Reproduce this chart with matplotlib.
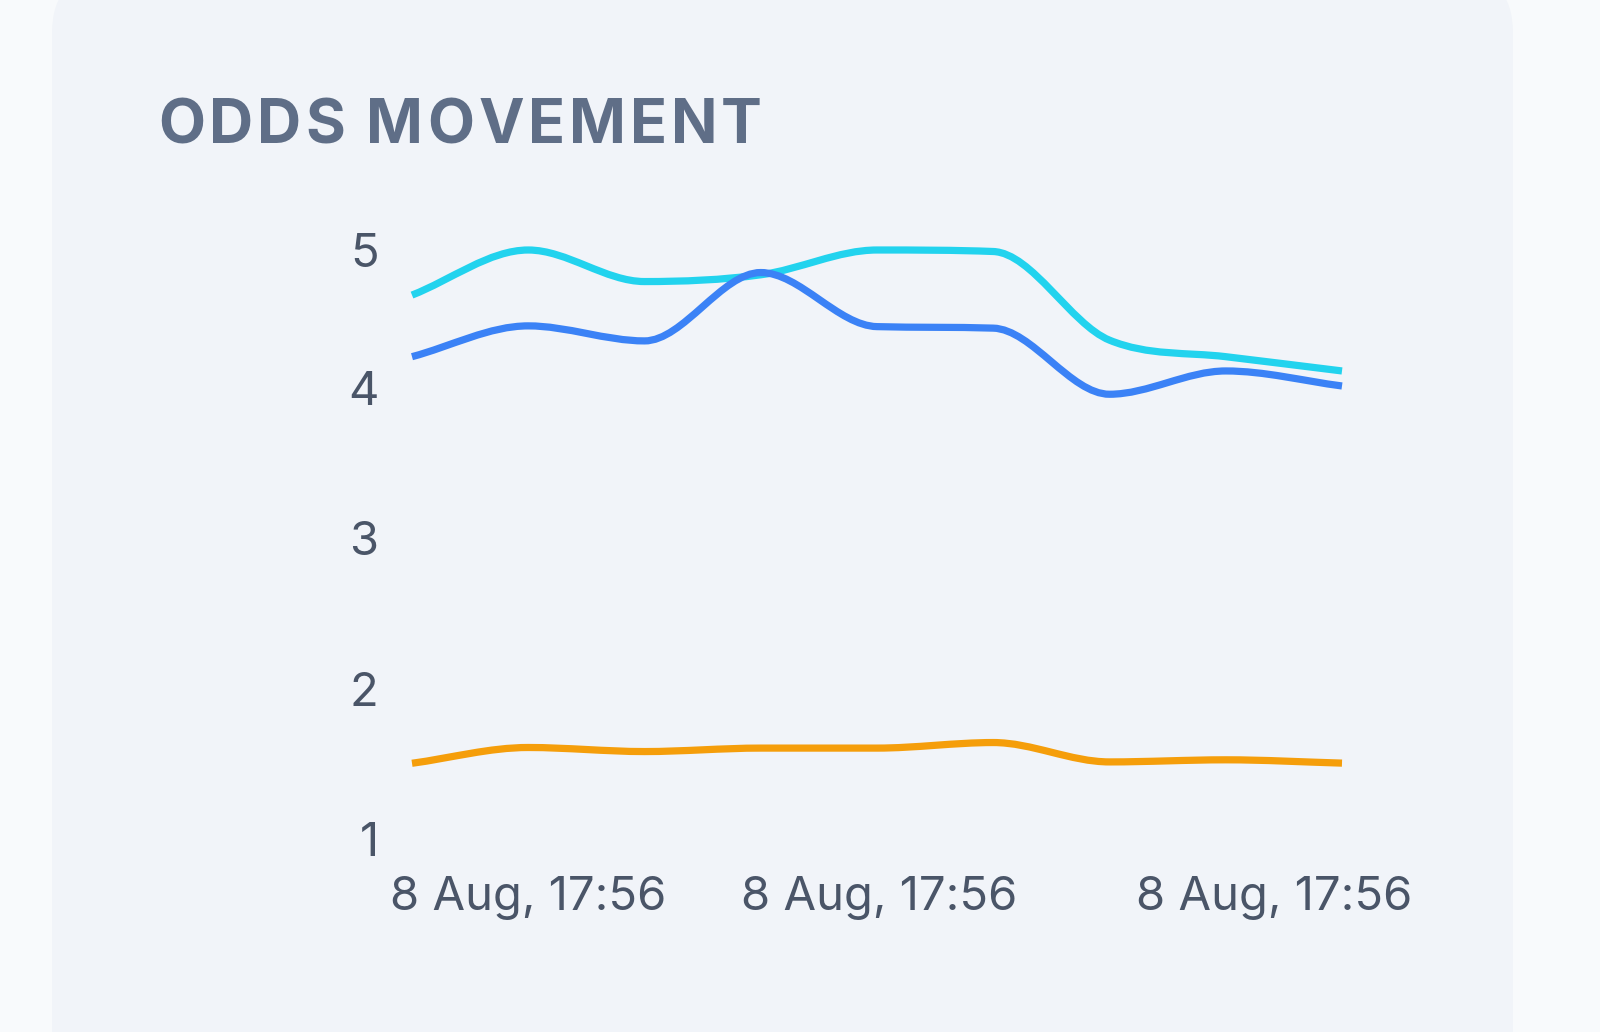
import numpy as np
import matplotlib
matplotlib.use("Agg")
import matplotlib.pyplot as plt
from matplotlib.patches import FancyBboxPatch, PathPatch
from matplotlib.path import Path
from matplotlib.transforms import IdentityTransform

# ---- data ----
title = "ODDS MOVEMENT"
series_cyan = [4.62, 4.92, 4.71, 4.755, 4.92, 4.91, 4.32, 4.21, 4.115]
series_blue = [4.21, 4.415, 4.315, 4.77, 4.41, 4.40, 3.96, 4.115, 4.015]
series_orange = [1.504, 1.609, 1.582, 1.605, 1.605, 1.642, 1.513, 1.527, 1.505]
x_tick_pos = [1.0, 4.02, 7.42]
x_tick_labels = ["8 Aug, 17:56", "8 Aug, 17:56", "8 Aug, 17:56"]
y_ticks = [1, 2, 3, 4]

colors = {"cyan": "#22d3ee", "blue": "#3b82f6", "orange": "#f59e0b"}

W, H = 1600, 1032
fig = plt.figure(figsize=(W / 100, H / 100), dpi=100)
fig.patch.set_facecolor("#f8fafc")

# card
card = FancyBboxPatch((52, -120), 1461, 1152 + 27, boxstyle="round,pad=0,rounding_size=60",
                      transform=IdentityTransform(), facecolor="#f1f4f9", edgecolor="none", zorder=-5)
fig.patches.append(card)

# axes
left, right, bottom_px, top_px = 412, 1342, 839, 250
ax = fig.add_axes([left / W, (H - bottom_px) / H, (right - left) / W, (bottom_px - top_px) / H])
ax.set_zorder(2)
ax.set_facecolor("none")
for s in ax.spines.values():
    s.set_visible(False)

x = np.arange(len(series_cyan), dtype=float)
ymax = max(max(series_cyan), max(series_blue), max(series_orange))
ax.set_xlim(0, len(x) - 1)
ax.set_ylim(1, ymax)

tick_font = "Inter"
ax.set_yticks(y_ticks + [ymax])
ax.set_yticklabels([f"{v:.0f}" for v in y_ticks + [ymax]])
ax.set_xticks(x_tick_pos)
ax.set_xticklabels(x_tick_labels)
ax.tick_params(axis="both", length=0, labelsize=34, labelcolor="#4a5568")
ax.tick_params(axis="y", pad=24)
ax.tick_params(axis="x", pad=27)
for lab in ax.get_xticklabels() + ax.get_yticklabels():
    lab.set_fontfamily(tick_font)


def monotone_path(xs, ys):
    xs = np.asarray(xs, float)
    ys = np.asarray(ys, float)
    n = len(xs)
    dk = np.zeros(n)
    for i in range(n - 1):
        dx = xs[i + 1] - xs[i]
        dk[i] = (ys[i + 1] - ys[i]) / dx if dx else 0.0
    mk = np.zeros(n)
    for i in range(n):
        if i == 0:
            mk[i] = dk[0]
        elif i == n - 1:
            mk[i] = dk[i - 1]
        elif np.sign(dk[i - 1]) != np.sign(dk[i]):
            mk[i] = 0.0
        else:
            mk[i] = (dk[i - 1] + dk[i]) / 2
    for i in range(n - 1):
        if abs(dk[i]) < 1e-12:
            mk[i] = mk[i + 1] = 0.0
            continue
        a = mk[i] / dk[i]
        b = mk[i + 1] / dk[i]
        sq = a * a + b * b
        if sq <= 9:
            continue
        tau = 3 / np.sqrt(sq)
        mk[i] = a * tau * dk[i]
        mk[i + 1] = b * tau * dk[i]
    verts = [(xs[0], ys[0])]
    codes = [Path.MOVETO]
    for i in range(n - 1):
        d = (xs[i + 1] - xs[i]) / 3
        verts += [(xs[i] + d, ys[i] + d * mk[i]),
                  (xs[i + 1] - d, ys[i + 1] - d * mk[i + 1]),
                  (xs[i + 1], ys[i + 1])]
        codes += [Path.CURVE4] * 3
    return Path(verts, codes)


for key, ys in (("orange", series_orange), ("cyan", series_cyan), ("blue", series_blue)):
    patch = PathPatch(monotone_path(x, ys), facecolor="none", edgecolor=colors[key],
                      linewidth=5.2, capstyle="butt", joinstyle="round", clip_on=False, zorder=3)
    ax.add_patch(patch)

# title with letter spacing
renderer = fig.canvas.get_renderer()
title_left, title_right, title_base = 158, 762, 143
fs = 44
widths = []
for ch in title:
    tt = fig.text(0, 0, ch if ch != " " else "n", fontsize=fs, fontweight="bold", family="Inter")
    w = tt.get_window_extent(renderer).width
    if ch == " ":
        w *= 0.35
    widths.append(w)
    tt.remove()
total = sum(widths)
gap = (title_right - title_left - total) / (len(title) - 1)
cx = title_left
for ch, w in zip(title, widths):
    if ch != " ":
        fig.text(cx / W, (H - title_base) / H, ch, fontsize=fs, fontweight="bold", family="Inter",
                 color="#5f6e87", ha="left", va="baseline")
    cx += w + gap

fig.savefig("out.png", dpi=100, facecolor=fig.get_facecolor())
